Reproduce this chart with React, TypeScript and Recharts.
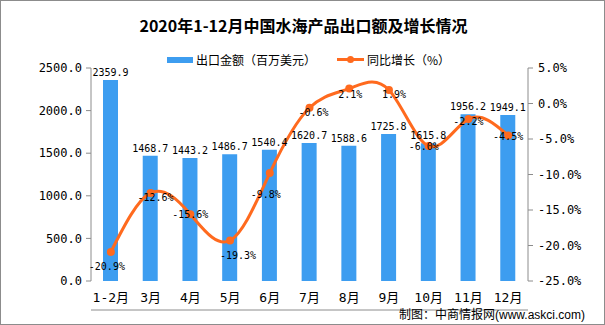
import {
  Bar,
  ComposedChart,
  LabelList,
  Line,
  XAxis,
  YAxis,
} from "recharts";

const categories = ["1-2月", "3月", "4月", "5月", "6月", "7月", "8月", "9月", "10月", "11月", "12月"];
const exportValues = [2359.9, 1468.7, 1443.2, 1486.7, 1540.4, 1620.7, 1588.6, 1725.8, 1615.8, 1956.2, 1949.1];
const growthRates = [-20.9, -12.6, -15.6, -19.3, -9.8, -0.6, 2.1, 1.9, -6.0, -2.2, -4.5];
const leftTicks = [0, 500, 1000, 1500, 2000, 2500];
const rightTicks = [-25, -20, -15, -10, -5, 0, 5];
const edgeTicks = [0, 1, 2, 3, 4, 5, 6, 7, 8, 9, 10, 11];

// label nudges for the growth line (px)
const rateLabelDy = [15, 5, 0, 15, 21, 5, 6, 4, 0, 2, 1];
const rateLabelDx = [-4, 5, 0, 8, -4, 4, 1, 5, -5, 0, 0];

const BLUE = "#3d9df0";
const ORANGE = "#ff6a1e";
const AXIS = "#8c8c8c";
const MONO = "'DejaVu Sans Mono', 'Noto Sans CJK SC', monospace";
const CJK = "'Noto Sans CJK SC', sans-serif";

const data = categories.map((name, i) => ({
  name,
  amount: exportValues[i],
  rate: growthRates[i],
}));

function RateLabel(props: any) {
  const { x, y, value, index } = props;
  return (
    <text
      x={x + (rateLabelDx[index] ?? 0)}
      y={y + (rateLabelDy[index] ?? 0)}
      textAnchor="middle"
      dominantBaseline="central"
      fontSize={10}
      fontFamily={MONO}
      fill="#000"
    >
      {Number(value).toFixed(1) + "%"}
    </text>
  );
}

export default function App() {
  return (
    <div
      style={{
        position: "absolute",
        left: 0,
        top: 0,
        width: 605,
        height: 325,
        background: "#fff",
        boxSizing: "border-box",
        border: `1px solid ${AXIS}`,
        overflow: "hidden",
      }}
    >
      <div
        style={{
          position: "absolute",
          left: 0,
          top: 14,
          width: 605,
          textAlign: "center",
          fontFamily: CJK,
          fontWeight: 700,
          fontSize: 16,
          lineHeight: "20px",
          color: "#000",
        }}
      >
        2020年1-12月中国水海产品出口额及增长情况
      </div>

      <div style={{ position: "absolute", left: 166, top: 56, width: 26, height: 6, background: BLUE }} />
      <div
        style={{ position: "absolute", left: 195, top: 51, fontFamily: CJK, fontSize: 12, lineHeight: "16px", color: "#000" }}
      >
        出口金额（百万美元）
      </div>
      <div style={{ position: "absolute", left: 336, top: 57, width: 27, height: 3, background: ORANGE }} />
      <div
        style={{ position: "absolute", left: 346, top: 55, width: 7, height: 7, borderRadius: 4, background: ORANGE }}
      />
      <div
        style={{ position: "absolute", left: 366, top: 51, fontFamily: CJK, fontSize: 12, lineHeight: "16px", color: "#000" }}
      >
        同比增长（%）
      </div>

      <div style={{ position: "absolute", left: 0, top: 0 }}>
        <ComposedChart
          width={603}
          height={323}
          data={data}
          margin={{ top: 67, right: 0, bottom: 13, left: 0 }}
          barCategoryGap={0}
        >
          <XAxis
            xAxisId="edges"
            type="number"
            domain={[0, 11]}
            ticks={edgeTicks}
            height={1}
            stroke={AXIS}
            tick={false}
            tickSize={5}
            allowDataOverflow
          />
          <XAxis
            dataKey="name"
            height={29}
            axisLine={false}
            tickLine={false}
            tickSize={0}
            tickMargin={12}
            interval={0}
            tick={{ fontSize: 13, fontFamily: MONO, fill: "#000" }}
          />
          <YAxis
            yAxisId="left"
            width={90}
            domain={[0, 2500]}
            ticks={leftTicks}
            stroke={AXIS}
            tickSize={5}
            tickMargin={4}
            tickFormatter={(v) => Number(v).toFixed(1)}
            tick={{ fontSize: 12, fontFamily: MONO, fill: "#000" }}
          />
          <YAxis
            yAxisId="right"
            orientation="right"
            width={76}
            domain={[-25, 5]}
            ticks={rightTicks}
            stroke={AXIS}
            tickSize={5}
            tickMargin={5}
            tickFormatter={(v) => Number(v).toFixed(1) + "%"}
            tick={{ fontSize: 12, fontFamily: MONO, fill: "#000", textAnchor: "start" }}
          />
          <Bar yAxisId="left" dataKey="amount" fill={BLUE} barSize={15} isAnimationActive={false}>
            <LabelList
              dataKey="amount"
              position="top"
              offset={4}
              formatter={(v: any) => Number(v).toFixed(1)}
              style={{ fontSize: 10, fontFamily: MONO, fill: "#000" }}
            />
          </Bar>
          <Line
            yAxisId="right"
            dataKey="rate"
            type="natural"
            stroke={ORANGE}
            strokeWidth={3}
            dot={{ r: 4, fill: ORANGE, stroke: "none" }}
            activeDot={false}
            isAnimationActive={false}
          >
            <LabelList dataKey="rate" content={RateLabel} />
          </Line>
        </ComposedChart>
      </div>

      <div style={{ position: "absolute", left: 398, top: 305, fontSize: 12, lineHeight: "16px", color: "#000", whiteSpace: "nowrap" }}>
        <span style={{ fontFamily: CJK }}>制图：中商情报网</span>
        <span style={{ fontFamily: "'Liberation Sans', Arial, sans-serif" }}>(www.askci.com)</span>
      </div>
    </div>
  );
}
